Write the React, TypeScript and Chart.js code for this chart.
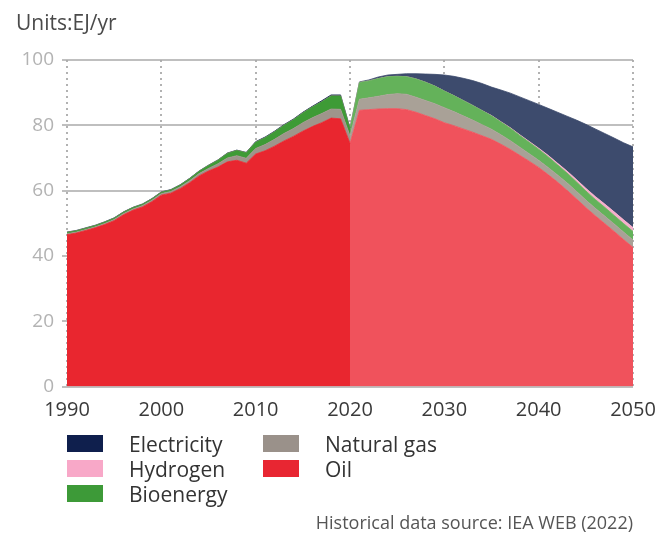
import React, { useEffect, useRef } from "react";
import { Chart, registerables } from "chart.js";

Chart.register(...registerables);

// ---- Data (EJ/yr) ----
const histYears = [
  1990, 1991, 1992, 1993, 1994, 1995, 1996, 1997, 1998, 1999, 2000, 2001, 2002, 2003, 2004, 2005,
  2006, 2007, 2008, 2009, 2010, 2011, 2012, 2013, 2014, 2015, 2016, 2017, 2018, 2019, 2020,
];
const projYears = [
  2020, 2021, 2022, 2023, 2024, 2025, 2026, 2027, 2028, 2029, 2030, 2031, 2032, 2033, 2034, 2035,
  2036, 2037, 2038, 2039, 2040, 2041, 2042, 2043, 2044, 2045, 2046, 2047, 2048, 2049, 2050,
];

const histOil = [
  46.5, 47.0, 47.8, 48.6, 49.6, 50.8, 52.6, 54.0, 55.0, 56.6, 58.6, 59.2, 60.6, 62.4, 64.5, 66.0,
  67.2, 68.8, 69.3, 68.4, 71.2, 72.2, 73.6, 75.2, 76.6, 78.2, 79.6, 80.8, 82.2, 82.0, 74.5,
];
const histGas = [
  0.3, 0.3, 0.3, 0.3, 0.35, 0.35, 0.4, 0.4, 0.4, 0.45, 0.5, 0.55, 0.6, 0.65, 0.7, 0.8,
  1.0, 1.2, 1.4, 1.5, 1.7, 1.9, 2.1, 2.3, 2.4, 2.6, 2.7, 2.8, 2.8, 2.9, 2.3,
];
const histBio = [
  0.4, 0.4, 0.4, 0.4, 0.4, 0.4, 0.4, 0.4, 0.4, 0.4, 0.4, 0.45, 0.5, 0.6, 0.7, 0.9,
  1.1, 1.4, 1.6, 1.7, 1.9, 2.1, 2.3, 2.5, 2.7, 3.0, 3.3, 3.6, 4.0, 4.1, 2.2,
];
const histHydrogen = [
  0, 0, 0, 0, 0, 0, 0, 0, 0, 0, 0, 0, 0, 0, 0, 0,
  0, 0, 0, 0, 0, 0, 0, 0, 0, 0, 0, 0, 0, 0, 0,
];
const histElec = [
  0.1, 0.1, 0.1, 0.1, 0.1, 0.1, 0.1, 0.1, 0.1, 0.1, 0.1, 0.1, 0.1, 0.1, 0.1, 0.1,
  0.1, 0.1, 0.1, 0.1, 0.2, 0.2, 0.2, 0.2, 0.2, 0.2, 0.2, 0.3, 0.3, 0.3, 0.2,
];

const projOil = [
  74.5, 84.6, 84.8, 85.0, 85.1, 85.1, 84.8, 84.0, 83.0, 82.0, 80.8, 79.9, 78.9, 77.9, 76.8, 75.7,
  74.2, 72.6, 70.8, 69.0, 67.1, 64.9, 62.6, 60.1, 57.5, 54.8, 52.3, 49.9, 47.5, 45.0, 42.6,
];
const projGas = [
  2.3, 3.4, 3.6, 3.9, 4.3, 4.6, 4.7, 4.6, 4.6, 4.6, 4.6, 4.3, 4.0, 3.7, 3.4, 3.1,
  2.9, 2.7, 2.5, 2.3, 2.2, 2.2, 2.2, 2.3, 2.3, 2.3, 2.3, 2.3, 2.3, 2.3, 2.3,
];
const projBio = [
  2.2, 5.1, 5.2, 5.4, 5.5, 5.3, 5.4, 5.6, 5.6, 5.4, 5.1, 4.9, 4.7, 4.5, 4.3, 4.1,
  3.9, 3.8, 3.6, 3.5, 3.4, 3.3, 3.1, 3.0, 2.9, 2.8, 2.7, 2.7, 2.6, 2.6, 2.6,
];
const projHydrogen = [
  0, 0, 0, 0, 0, 0, 0, 0, 0, 0, 0, 0, 0, 0, 0, 0.1,
  0.1, 0.15, 0.2, 0.25, 0.3, 0.4, 0.5, 0.6, 0.7, 0.8, 0.9, 1.0, 1.1, 1.15, 1.2,
];
const projElec = [
  0.2, 0.2, 0.3, 0.5, 0.5, 0.6, 0.9, 1.6, 2.5, 3.6, 4.9, 5.9, 6.8, 7.6, 8.3, 8.7,
  9.7, 10.6, 11.6, 12.5, 13.4, 14.4, 15.6, 16.8, 18.2, 19.6, 20.7, 21.6, 22.6, 23.6, 24.7,
];

const xTicks = [1990, 2000, 2010, 2020, 2030, 2040, 2050];
const yTicks = [0, 20, 40, 60, 80, 100];

const legendItems = [
  { label: "Electricity", color: "#0F1F4D", col: 0, row: 0 },
  { label: "Hydrogen", color: "#F8A8C8", col: 0, row: 1 },
  { label: "Bioenergy", color: "#3D9A38", col: 0, row: 2 },
  { label: "Natural gas", color: "#9A918A", col: 1, row: 0 },
  { label: "Oil", color: "#E82632", col: 1, row: 1 },
];

const FONT = "'Open Sans', 'Noto Sans', sans-serif";

export default function App() {
  const ref = useRef<HTMLCanvasElement>(null);

  useEffect(() => {
    if (!ref.current) return;
    const pts = (xs: number[], ys: number[]) => xs.map((x, i) => ({ x, y: ys[i] }));
    const mk = (label: string, xs: number[], ys: number[], color: string, stack: string, fill: any) => ({
      label,
      data: pts(xs, ys),
      backgroundColor: color,
      borderColor: color,
      borderWidth: 0.8,
      pointRadius: 0,
      pointHoverRadius: 0,
      fill,
      stack,
      tension: 0,
    });

    const chart = new Chart(ref.current, {
      type: "line",
      data: {
        datasets: [
          mk("Oil", histYears, histOil, "#E9262F", "h", "origin"),
          mk("Natural gas", histYears, histGas, "#9E958B", "h", "-1"),
          mk("Bioenergy", histYears, histBio, "#3E9B36", "h", "-1"),
          mk("Hydrogen", histYears, histHydrogen, "#F7A9C9", "h", "-1"),
          mk("Electricity", histYears, histElec, "#0E1E4A", "h", "-1"),
          mk("Oil (proj)", projYears, projOil, "#F0525C", "p", "origin"),
          mk("Natural gas (proj)", projYears, projGas, "#A9A197", "p", "-1"),
          mk("Bioenergy (proj)", projYears, projBio, "#64B25A", "p", "-1"),
          mk("Hydrogen (proj)", projYears, projHydrogen, "#F6AFCB", "p", "-1"),
          mk("Electricity (proj)", projYears, projElec, "#3D4B6D", "p", "-1"),
        ] as any,
      },
      options: {
        responsive: false,
        animation: false,
        events: [],
        layout: { padding: { left: 0, right: 25, top: 60, bottom: 0 } },
        plugins: { legend: { display: false }, tooltip: { enabled: false } },
        elements: { line: { borderJoinStyle: "round" } },
        scales: {
          x: {
            type: "linear",
            min: xTicks[0],
            max: xTicks[xTicks.length - 1],
            z: 1,
            afterFit: (s: any) => {
              s.height = 146.5;
              s.paddingLeft = 0;
              s.paddingRight = 0;
            },
            afterBuildTicks: (s: any) => {
              s.ticks = xTicks.map((v) => ({ value: v }));
            },
            grid: { color: "rgba(165,165,165,0.85)", lineWidth: 2, drawTicks: false },
            border: { display: false, dash: [2, 4] },
            ticks: {
              callback: (v: any) => String(v),
              color: "#3a3a3a",
              font: { size: 20, family: FONT },
              padding: 12,
              maxRotation: 0,
              autoSkip: false,
            },
          },
          y: {
            stacked: true,
            min: yTicks[0],
            max: yTicks[yTicks.length - 1],
            z: 1,
            afterFit: (s: any) => {
              s.width = 67;
              s.paddingTop = 0;
              s.paddingBottom = 0;
            },
            afterBuildTicks: (s: any) => {
              s.ticks = yTicks.map((v) => ({ value: v }));
            },
            grid: { color: "rgba(170,170,170,0.75)", lineWidth: 2, tickLength: 5 },
            border: { display: false },
            ticks: {
              color: "#b3b3b3",
              font: { size: 19, family: FONT },
              padding: 8,
            },
          },
        },
      } as any,
    });
    return () => chart.destroy();
  }, []);

  return (
    <div
      style={{
        position: "fixed",
        left: 0,
        top: 0,
        width: 658,
        height: 533,
        background: "#fff",
        fontFamily: FONT,
      }}
    >
      <canvas ref={ref} width={658} height={533} style={{ position: "absolute", left: 0, top: 0 }} />
      <div
        style={{
          position: "absolute",
          left: 16,
          top: 8,
          fontSize: 21,
          lineHeight: "28px",
          color: "#4a4a4a",
          whiteSpace: "nowrap",
        }}
      >
        Units:EJ/yr
      </div>
      {legendItems.map((it) => (
        <div key={it.label}>
          <div
            style={{
              position: "absolute",
              left: it.col === 0 ? 67 : 263,
              top: 435 + it.row * 25,
              width: 36,
              height: 17,
              background: it.color,
            }}
          />
          <div
            style={{
              position: "absolute",
              left: it.col === 0 ? 129 : 325,
              top: 430 + it.row * 25,
              fontSize: 21,
              lineHeight: "28px",
              color: "#333",
              whiteSpace: "nowrap",
            }}
          >
            {it.label}
          </div>
        </div>
      ))}
      <div
        style={{
          position: "absolute",
          right: 25,
          top: 510,
          fontSize: 18,
          lineHeight: "24px",
          color: "#555",
          whiteSpace: "nowrap",
        }}
      >
        Historical data source: IEA WEB (2022)
      </div>
    </div>
  );
}
